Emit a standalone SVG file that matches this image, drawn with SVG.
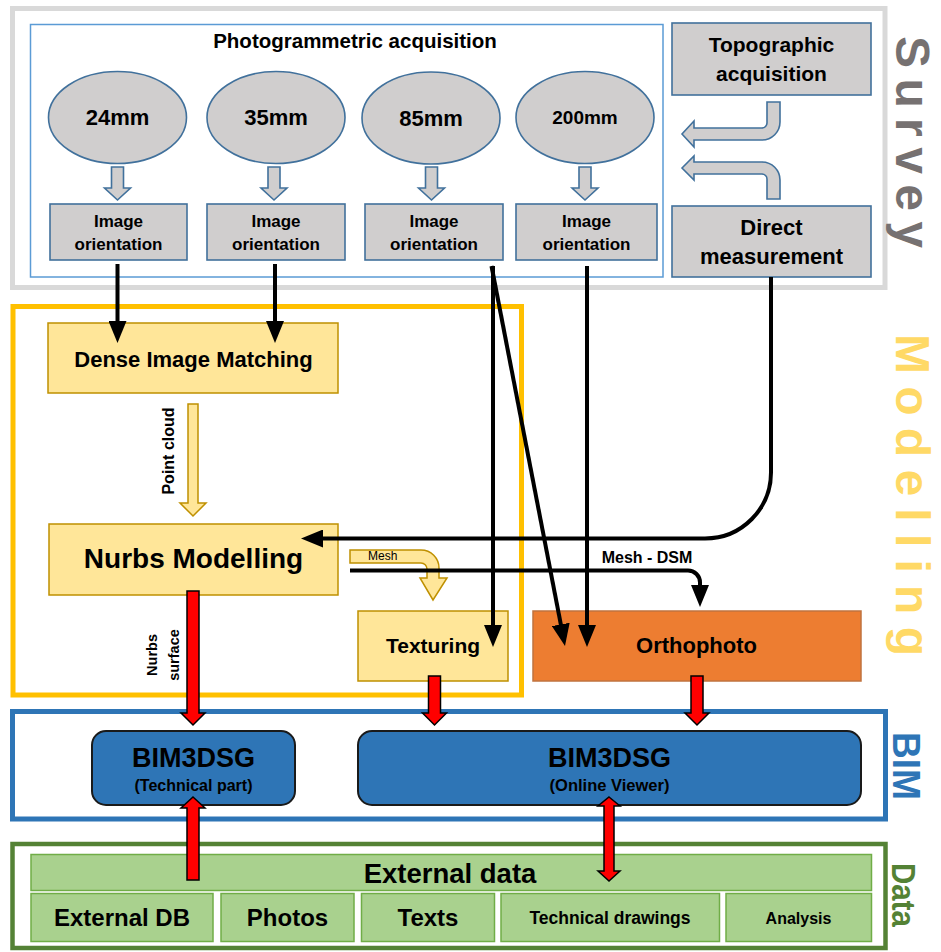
<svg xmlns="http://www.w3.org/2000/svg" width="941" height="952" viewBox="0 0 941 952">
<defs>
<style>
text{font-family:"Liberation Sans",Arial,sans-serif;font-weight:bold;fill:#000;text-anchor:middle}
.gray{fill:#d0cece;stroke:#41719c;stroke-width:1.6}
.yel{fill:#ffe699;stroke:#bf9000;stroke-width:1.5}
.red{fill:#ff0000;stroke:#000;stroke-width:1.5}
.conn{fill:none;stroke:#000;stroke-width:4;marker-end:url(#ah)}
.grn{fill:#a9d18e;stroke:#70ad47;stroke-width:1.5}
.lbl{text-anchor:start}
</style>
<marker id="ah" markerUnits="userSpaceOnUse" markerWidth="22" markerHeight="18" viewBox="0 0 22 18" refX="12" refY="9" orient="auto">
<path d="M0,0 L22,9 L0,18 Z" fill="#000"/>
</marker>
</defs>
<rect width="941" height="952" fill="#fff"/>

<g id="frames">
<rect x="12.5" y="8.5" width="872.5" height="279" fill="none" stroke="#d9d9d9" stroke-width="5"/>
<rect x="30.5" y="24.5" width="632.5" height="252.5" fill="none" stroke="#5b9bd5" stroke-width="1.5"/>
<rect x="13" y="306.5" width="508.5" height="388.5" fill="none" stroke="#ffc000" stroke-width="5"/>
<rect x="12.5" y="711.5" width="873" height="107.5" fill="none" stroke="#2e75b6" stroke-width="5"/>
<rect x="12.5" y="844" width="873" height="104" fill="none" stroke="#548235" stroke-width="4.5"/>
<text class="lbl" transform="translate(896,36) rotate(90)" font-size="48" style="fill:#767171" textLength="212" lengthAdjust="spacing">Survey</text>
<text class="lbl" transform="translate(896,334) rotate(90)" font-size="48" style="fill:#ffd966" textLength="322" lengthAdjust="spacing">Modelling</text>
<text class="lbl" transform="translate(893,732) rotate(90)" font-size="38" style="fill:#2e75b6" textLength="68" lengthAdjust="spacingAndGlyphs">BIM</text>
<text class="lbl" transform="translate(892,863) rotate(90)" font-size="34" style="fill:#548235" textLength="64" lengthAdjust="spacingAndGlyphs">Data</text>
</g>

<g id="photogrammetric-title">
<text x="355" y="48" font-size="20.5">Photogrammetric acquisition</text>
</g>

<g id="lens-24">
<ellipse cx="117.5" cy="117.5" rx="69" ry="46" class="gray"/>
<text x="117.5" y="125" font-size="22">24mm</text>
</g>
<g id="lens-35">
<ellipse cx="276" cy="117.5" rx="69" ry="46" class="gray"/>
<text x="276" y="125" font-size="22">35mm</text>
</g>
<g id="lens-85">
<ellipse cx="431" cy="118" rx="69" ry="46" class="gray"/>
<text x="431" y="126" font-size="22">85mm</text>
</g>
<g id="lens-200">
<ellipse cx="585" cy="117.5" rx="69" ry="46" class="gray"/>
<text x="585" y="124" font-size="19">200mm</text>
</g>

<g id="orient-24">
<rect x="50" y="204" width="137" height="56" class="gray"/>
<text x="118.5" y="227" font-size="17">Image</text>
<text x="118.5" y="250" font-size="17">orientation</text>
</g>
<g id="orient-35">
<rect x="207" y="204" width="138" height="56" class="gray"/>
<text x="276" y="227" font-size="17">Image</text>
<text x="276" y="250" font-size="17">orientation</text>
</g>
<g id="orient-85">
<rect x="365" y="204" width="138" height="56" class="gray"/>
<text x="434" y="227" font-size="17">Image</text>
<text x="434" y="250" font-size="17">orientation</text>
</g>
<g id="orient-200">
<rect x="516" y="204" width="141" height="56" class="gray"/>
<text x="586.5" y="227" font-size="17">Image</text>
<text x="586.5" y="250" font-size="17">orientation</text>
</g>

<g id="topographic">
<rect x="672" y="23" width="199" height="72" class="gray" stroke-width="2"/>
<text x="771.5" y="52" font-size="21">Topographic</text>
<text x="771.5" y="81" font-size="21">acquisition</text>
</g>
<g id="direct">
<rect x="672" y="206" width="199" height="71" class="gray" stroke-width="2"/>
<text x="771.5" y="235" font-size="22">Direct</text>
<text x="771.5" y="264" font-size="22">measurement</text>
</g>

<g id="dense">
<rect x="48" y="323" width="290" height="70" class="yel"/>
<text x="193.5" y="366.5" font-size="22">Dense Image Matching</text>
</g>
<g id="nurbs">
<rect x="49" y="524" width="289" height="71" class="yel"/>
<text x="193.5" y="568" font-size="28">Nurbs Modelling</text>
</g>
<g id="texturing">
<rect x="358" y="611" width="150" height="70" class="yel"/>
<text x="433" y="653" font-size="21">Texturing</text>
</g>
<g id="orthophoto">
<rect x="533" y="611" width="328" height="70" fill="#ed7d31" stroke="#c0733f" stroke-width="1.5"/>
<text x="696.5" y="653" font-size="22">Orthophoto</text>
</g>

<g id="bim-technical">
<rect x="92" y="731" width="203" height="74" rx="14" fill="#2e75b6" stroke="#1a1a1a" stroke-width="2"/>
<text x="193.5" y="766.5" font-size="27">BIM3DSG</text>
<text x="193.5" y="791" font-size="16">(Technical part)</text>
</g>
<g id="bim-online">
<rect x="358" y="731" width="503" height="74" rx="14" fill="#2e75b6" stroke="#1a1a1a" stroke-width="2"/>
<text x="609.5" y="766.5" font-size="27">BIM3DSG</text>
<text x="609.5" y="791" font-size="16.5">(Online Viewer)</text>
</g>

<g id="external-data">
<rect x="31" y="854.5" width="840.5" height="36" class="grn"/>
<text x="450" y="882.5" font-size="27.5">External data</text>
</g>
<g id="external-db">
<rect x="31" y="893.5" width="182" height="48" class="grn"/>
<text x="122" y="925.5" font-size="24">External DB</text>
</g>
<g id="photos">
<rect x="221" y="893.5" width="133" height="48" class="grn"/>
<text x="287.5" y="925.5" font-size="24">Photos</text>
</g>
<g id="texts">
<rect x="361.5" y="893.5" width="133" height="48" class="grn"/>
<text x="428" y="925.5" font-size="24">Texts</text>
</g>
<g id="technical-drawings">
<rect x="501" y="893.5" width="218.5" height="48" class="grn"/>
<text x="610" y="923.5" font-size="17.5">Technical drawings</text>
</g>
<g id="analysis">
<rect x="726" y="893.5" width="145.5" height="48" class="grn"/>
<text x="798.5" y="923.5" font-size="16">Analysis</text>
</g>

<g id="connectors">
<path class="gray" d="M111.5,167 H123.5 V188 H130.5 L117.5,200 L104.5,188 H111.5 Z"/>
<path class="gray" d="M268,167 H280 V188 H287 L274,200 L261,188 H268 Z"/>
<path class="gray" d="M425.5,167 H437.5 V188 H444.5 L431.5,200 L418.5,188 H425.5 Z"/>
<path class="gray" d="M579,167 H591 V188 H598 L585,200 L572,188 H579 Z"/>
<path class="gray" d="M767,102 H780 V122 A18,18 0 0 1 762,140 H694 V147 L682,134 L694,121 V128 H762 A5,5 0 0 0 767,123 Z"/>
<path class="gray" d="M682,168 L694,156 V162 H762 A18,18 0 0 1 780,180 V199 H767 V179 A5,5 0 0 0 762,174 H694 V180 Z"/>
<path class="yel" d="M188,404 H198 V503 H206 L193,516 L180,503 H188 Z"/>
<text x="0" y="0" transform="translate(174,451) rotate(-90)" font-size="16">Point cloud</text>
<path class="yel" d="M350,550 H421 A18,18 0 0 1 439,568 V578 H447 L433,600 L420,578 H427 V569 A6,6 0 0 0 421,563 H350 Z"/>
<text x="368" y="560" font-size="12" class="lbl" style="font-weight:normal">Mesh</text>
<path class="conn" d="M117.5,264 V333"/>
<path class="conn" d="M275,264 V333"/>
<path class="conn" d="M493,266 V637"/>
<path class="conn" d="M491.5,266 L563.1,636.2"/>
<path class="conn" d="M587,266 V637"/>
<path class="conn" d="M771,277 V472 A66,66 0 0 1 705,538.5 H311"/>
<path class="conn" d="M350,570.5 H688 A12,12 0 0 1 700,582.5 V597"/>
<text x="647" y="563" font-size="16">Mesh - DSM</text>
<path class="red" d="M187,591 H199 V713 H205 L193,725 L181,713 H187 Z"/>
<text transform="translate(157,655) rotate(-90)" font-size="14.5">Nurbs</text>
<text transform="translate(179,655) rotate(-90)" font-size="14.5">surface</text>
<path class="red" d="M428.5,676 H440.5 V713 H446.5 L434.5,725 L422.5,713 H428.5 Z"/>
<path class="red" d="M691,676 H703 V713 H709 L697,725 L685,713 H691 Z"/>
<path class="red" d="M193,797 L205,808 H199 V880 H187 V808 H181 Z"/>
<path class="red" d="M609,797 L620,806 H614 V871 H620 L609,881 L598,871 H604 V806 H598 Z"/>
</g>
</svg>
